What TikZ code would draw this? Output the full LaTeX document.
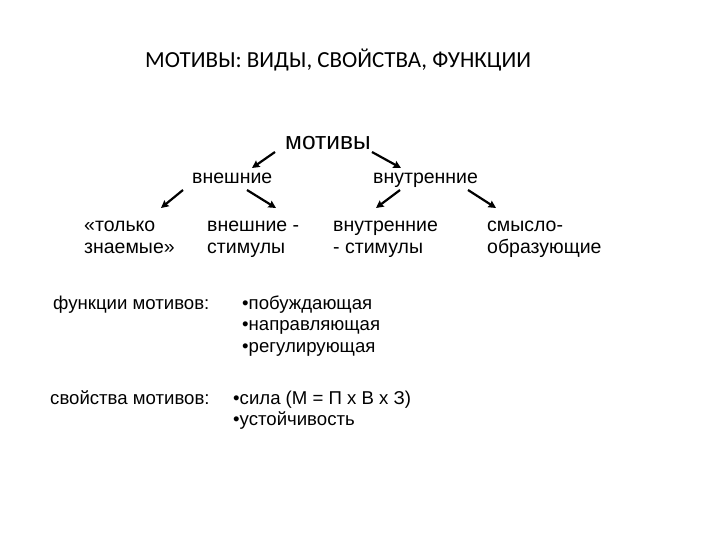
\documentclass[tikz,border=0pt]{standalone}
\usepackage{fontspec}
\setmainfont{Liberation Sans}
\newfontfamily\titlefont{Carlito}
\usetikzlibrary{arrows.meta}
\tikzset{
  lbl/.style={anchor=base west, inner sep=0pt, font=\fontsize{19.5}{21}\selectfont, align=left},
  low/.style={anchor=base west, inner sep=0pt, font=\fontsize{18.6}{21.5}\selectfont, align=left},
  arr/.style={line width=2.2pt, -{Stealth[length=7.5pt,width=7.5pt,inset=1pt]}}
}
\begin{document}
\begin{tikzpicture}[x=1pt,y=-1pt]
\useasboundingbox (0,0) rectangle (720,540);
\node[anchor=base west, inner sep=0pt, font=\titlefont\fontsize{23}{26}\selectfont] (title) at (145,68) {МОТИВЫ: ВИДЫ, СВОЙСТВА, ФУНКЦИИ};
\node[anchor=base west, inner sep=0pt, font=\fontsize{24.5}{28}\selectfont] (mot) at (285,150) {мотивы};
\node[lbl] (ext) at (192,184) {внешние};
\node[lbl] (int) at (373,184) {внутренние};
% multi-line nodes: anchor at baseline of last line
\node[lbl] (only) at (84,253) {«только\\знаемые»};
\node[lbl] (exts) at (207,253) {внешние -\\стимулы};
\node[lbl] (ints) at (333,253) {внутренние\\- стимулы};
\node[lbl] (sens) at (487,253) {смысло-\\образующие};
\node[low] (funl) at (53,309) {функции мотивов:};
\node[low] (funb) at (242,352) {•побуждающая\\•направляющая\\•регулирующая};
\node[low] (prol) at (50,404) {свойства мотивов:};
\node[low] (prob) at (233,425.5) {•сила (М = П х В х З)\\•устойчивость};
\coordinate (a1s) at (275,152); \coordinate (a1e) at (252,168);
\coordinate (a2s) at (372,152); \coordinate (a2e) at (401,168);
\coordinate (a3s) at (183,190); \coordinate (a3e) at (161,208);
\coordinate (a4s) at (247,190); \coordinate (a4e) at (276,208);
\coordinate (a5s) at (400,190); \coordinate (a5e) at (376,208);
\coordinate (a6s) at (468,190); \coordinate (a6e) at (496,208);
\draw[arr] (a1s) -- (a1e);
\draw[arr] (a2s) -- (a2e);
\draw[arr] (a3s) -- (a3e);
\draw[arr] (a4s) -- (a4e);
\draw[arr] (a5s) -- (a5e);
\draw[arr] (a6s) -- (a6e);
\end{tikzpicture}
\end{document}
